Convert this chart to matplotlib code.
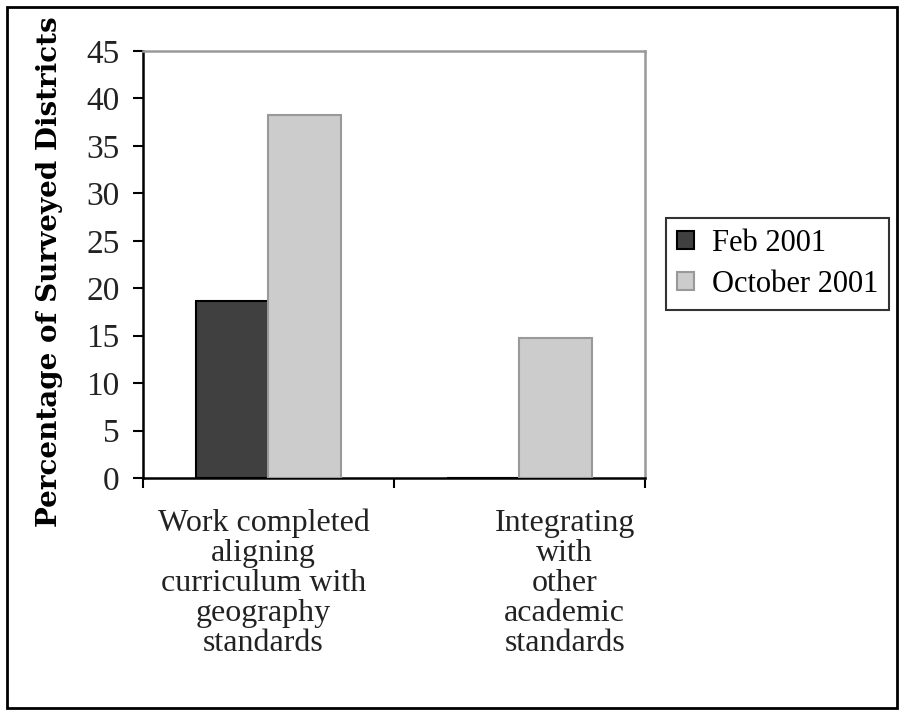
import matplotlib
matplotlib.use('Agg')
import matplotlib.pyplot as plt
from matplotlib.patches import Rectangle
import numpy

categories = ['Work completed\naligning\ncurriculum with\ngeography\nstandards',
              'Integrating\nwith\nother\nacademic\nstandards']
series_names = ['Feb 2001', 'October 2001']
feb_2001 = [18.6, 0.0]
oct_2001 = [38.3, 14.8]
y_ticks = [0, 5, 10, 15, 20, 25, 30, 35, 40, 45]

plt.rcParams['font.family'] = ['Liberation Serif', 'DejaVu Serif']

fig = plt.figure(figsize=(9.05, 7.15), dpi=100)
fig.patches.append(Rectangle((0.008, 0.010), 0.983, 0.980, transform=fig.transFigure,
                             fill=False, edgecolor='black', linewidth=2.0))
axes = fig.add_axes([0.158, 0.3315, 0.5547, 0.5972])

x_poss = numpy.arange(len(categories))
width = 0.29
axes.bar(x_poss - width / 2, feb_2001, width=width, color='#404040',
         edgecolor='black', linewidth=1.5, label=series_names[0], zorder=3)
axes.bar(x_poss + width / 2, oct_2001, width=width, color='#cccccc',
         edgecolor='#999999', linewidth=1.5, label=series_names[1], zorder=3)

axes.set_xlim(-0.5, len(categories) - 0.5)
axes.set_ylim(0, 45)
axes.set_yticks(y_ticks)
axes.set_yticklabels([str(t) for t in y_ticks], fontsize=24, color='#222222')
axes.tick_params(axis='y', direction='out', length=7, width=1.5, pad=10)

# category boundaries carry the tick marks, labels sit in between
axes.set_xticks(numpy.arange(len(categories) + 1) - 0.5)
axes.set_xticklabels([])
axes.tick_params(axis='x', direction='out', length=7, width=1.5)
axes.set_xticks([-0.02, 1.18], minor=True)
axes.set_xticklabels(categories, minor=True, fontsize=23, linespacing=1.05,
                     color='#222222')
axes.tick_params(axis='x', which='minor', length=0, pad=22)

for side in ['left', 'bottom']:
    axes.spines[side].set_color('black')
    axes.spines[side].set_linewidth(1.8)
for side in ['top', 'right']:
    axes.spines[side].set_color('#999999')
    axes.spines[side].set_linewidth(1.8)

fig.text(0.055, 0.62, 'Percentage of Surveyed Districts', rotation=90,
         ha='center', va='center', fontsize=20, fontweight='bold',
         family='DejaVu Serif')

legend = fig.legend(loc='center left', bbox_to_anchor=(0.736, 0.631),
                    fontsize=22, frameon=True, fancybox=False,
                    handlelength=0.55, handleheight=0.55, handletextpad=0.6,
                    borderpad=0.35, labelspacing=0.4, borderaxespad=0)
legend.get_frame().set_edgecolor('black')
legend.get_frame().set_linewidth(1.5)

fig.savefig('out.png', dpi=100)
